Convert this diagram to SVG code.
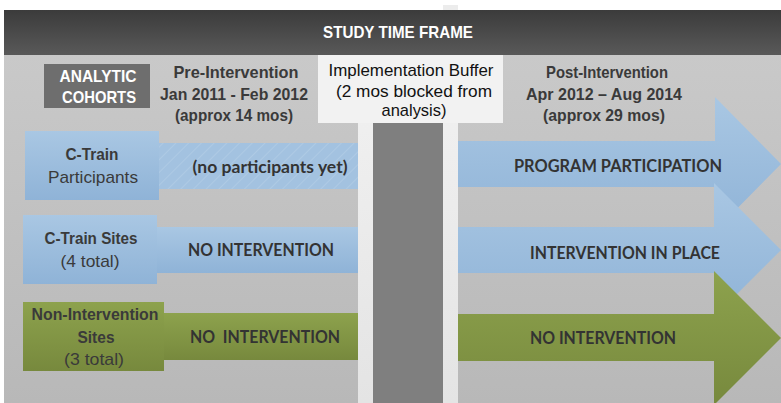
<svg xmlns="http://www.w3.org/2000/svg" width="781" height="403" viewBox="0 0 781 403">
  <defs>
    <linearGradient id="gHeader" x1="0" y1="0" x2="0" y2="1">
      <stop offset="0" stop-color="#3b3b3b"/>
      <stop offset="1" stop-color="#595959"/>
    </linearGradient>
    <linearGradient id="gBg" x1="0" y1="0" x2="0" y2="1">
      <stop offset="0" stop-color="#c9c9c9"/>
      <stop offset="1" stop-color="#b8b8b8"/>
    </linearGradient>
    <linearGradient id="gLight" x1="0" y1="0" x2="0" y2="1">
      <stop offset="0" stop-color="#f2f2f2"/>
      <stop offset="1" stop-color="#e4e4e4"/>
    </linearGradient>
    <linearGradient id="gBlue" x1="0" y1="0" x2="0" y2="1">
      <stop offset="0" stop-color="#a9c7e3"/>
      <stop offset="1" stop-color="#8fb3d7"/>
    </linearGradient>
    <linearGradient id="gGreen" x1="0" y1="0" x2="0" y2="1">
      <stop offset="0" stop-color="#8da24d"/>
      <stop offset="1" stop-color="#77893d"/>
    </linearGradient>
    <pattern id="hatch" patternUnits="userSpaceOnUse" width="9" height="9" patternTransform="rotate(45)">
      <rect width="9" height="9" fill="#a3c2e0"/>
      <line x1="0" y1="0" x2="0" y2="9" stroke="#b6d0e8" stroke-width="1.2"/>
    </pattern>
    <style>
      .cond { font-family: "Liberation Sans", Arial, sans-serif; }
      .hdr { font-family: "Liberation Sans", Arial, sans-serif; font-size: 17px; font-weight: bold; fill: #3a3a3a; text-anchor: middle; }
      .coh { font-family: "Liberation Sans", Arial, sans-serif; font-size: 17px; fill: #3a3a3a; text-anchor: middle; }
      .b { font-weight: bold; }
      .bar { font-family: Lato, "Open Sans", sans-serif; font-size: 16.5px; font-weight: bold; fill: #333333; text-anchor: middle; }
      .wt { fill: #ffffff; }
    </style>
  </defs>

  <g id="background">
    <rect x="0" y="0" width="781" height="403" fill="#ffffff"/>
    <rect x="4" y="55" width="777" height="348" fill="url(#gBg)"/>
    <rect x="443" y="5" width="15" height="6" fill="#ececec"/>
  </g>

  <g id="header">
    <rect x="4" y="10" width="777" height="45" fill="url(#gHeader)"/>
    <text class="cond b wt" x="398" y="38" font-size="17" text-anchor="middle" textLength="150" lengthAdjust="spacingAndGlyphs">STUDY TIME FRAME</text>
  </g>

  <g id="buffer-band">
    <rect x="358" y="55" width="100" height="348" fill="url(#gLight)"/>
    <rect x="373" y="55" width="70" height="348" fill="#7f7f7f"/>
  </g>

  <g id="analytic-cohorts">
    <rect x="44" y="64" width="106" height="44" fill="#6e6e6e"/>
    <text class="cond b wt" x="98" y="82" font-size="17" text-anchor="middle" textLength="77" lengthAdjust="spacingAndGlyphs">ANALYTIC</text>
    <text class="cond b wt" x="99" y="103" font-size="17" text-anchor="middle" textLength="74" lengthAdjust="spacingAndGlyphs">COHORTS</text>
  </g>

  <g id="pre-intervention">
    <text class="hdr" x="236" y="78" textLength="125" lengthAdjust="spacingAndGlyphs">Pre-Intervention</text>
    <text class="hdr" x="234" y="100" textLength="148" lengthAdjust="spacingAndGlyphs">Jan 2011 - Feb 2012</text>
    <text class="hdr" x="234" y="121" textLength="118" lengthAdjust="spacingAndGlyphs">(approx 14 mos)</text>
  </g>

  <g id="implementation-buffer">
    <rect x="318" y="55" width="185" height="68" fill="#f2f2f2"/>
    <text class="coh" x="411" y="76" fill="#111111" style="fill:#111" textLength="165" lengthAdjust="spacingAndGlyphs">Implementation Buffer</text>
    <text class="coh" x="414" y="97" style="fill:#111" textLength="156" lengthAdjust="spacingAndGlyphs">(2 mos blocked from</text>
    <text class="coh" x="414" y="116" style="fill:#111" textLength="65" lengthAdjust="spacingAndGlyphs">analysis)</text>
  </g>

  <g id="post-intervention">
    <text class="hdr" x="607" y="78" textLength="122" lengthAdjust="spacingAndGlyphs">Post-Intervention</text>
    <text class="hdr" x="604" y="100" textLength="156" lengthAdjust="spacingAndGlyphs">Apr 2012 – Aug 2014</text>
    <text class="hdr" x="604" y="121" textLength="122" lengthAdjust="spacingAndGlyphs">(approx 29 mos)</text>
  </g>

  <g id="ctrain-participants">
    <rect x="25" y="131" width="134" height="69" fill="url(#gBlue)"/>
    <text class="coh b" x="92" y="160" textLength="53" lengthAdjust="spacingAndGlyphs">C-Train</text>
    <text class="coh" x="93" y="183" textLength="90" lengthAdjust="spacingAndGlyphs">Participants</text>
  </g>

  <g id="ctrain-participants-pre">
    <rect x="159" y="143" width="199" height="46" fill="url(#hatch)"/>
    <text class="bar" x="270" y="173" textLength="155" lengthAdjust="spacingAndGlyphs">(no participants yet)</text>
  </g>

  <g id="ctrain-sites">
    <rect x="23" y="215" width="134" height="69" fill="url(#gBlue)"/>
    <text class="coh b" x="91" y="244" textLength="93" lengthAdjust="spacingAndGlyphs">C-Train Sites</text>
    <text class="coh" x="90" y="267" textLength="59" lengthAdjust="spacingAndGlyphs">(4 total)</text>
  </g>

  <g id="ctrain-sites-pre">
    <rect x="157" y="227" width="201" height="46" fill="url(#gBlue)"/>
    <text class="bar" x="261" y="256" textLength="146" lengthAdjust="spacingAndGlyphs">NO INTERVENTION</text>
  </g>

  <g id="non-intervention-sites">
    <rect x="23" y="302" width="141" height="69" fill="url(#gGreen)"/>
    <text class="coh b" x="95" y="320" textLength="127" lengthAdjust="spacingAndGlyphs">Non-Intervention</text>
    <text class="coh b" x="96" y="343" textLength="37" lengthAdjust="spacingAndGlyphs">Sites</text>
    <text class="coh" x="94" y="365" textLength="60" lengthAdjust="spacingAndGlyphs">(3 total)</text>
  </g>

  <g id="non-intervention-pre">
    <rect x="164" y="313" width="194" height="47" fill="url(#gGreen)"/>
    <text class="bar" x="265" y="343" textLength="150" lengthAdjust="spacingAndGlyphs" xml:space="preserve">NO  INTERVENTION</text>
  </g>

  <g id="arrow-program-participation">
    <polygon points="458,141 715,141 715,97 781,164 715,231 715,187 458,187" fill="url(#gBlue)"/>
    <text class="bar" x="618" y="172" textLength="208" lengthAdjust="spacingAndGlyphs">PROGRAM PARTICIPATION</text>
  </g>

  <g id="arrow-intervention-in-place">
    <polygon points="458,227 714,227 714,183 781,250 714,317 714,273 458,273" fill="url(#gBlue)"/>
    <text class="bar" x="625" y="259" textLength="190" lengthAdjust="spacingAndGlyphs">INTERVENTION IN PLACE</text>
  </g>

  <g id="arrow-no-intervention">
    <polygon points="458,314 714,314 714,271 781,338 714,405 714,361 458,361" fill="url(#gGreen)"/>
    <text class="bar" x="603" y="344" textLength="146" lengthAdjust="spacingAndGlyphs">NO INTERVENTION</text>
  </g>

  <g id="connectors"/>
</svg>
